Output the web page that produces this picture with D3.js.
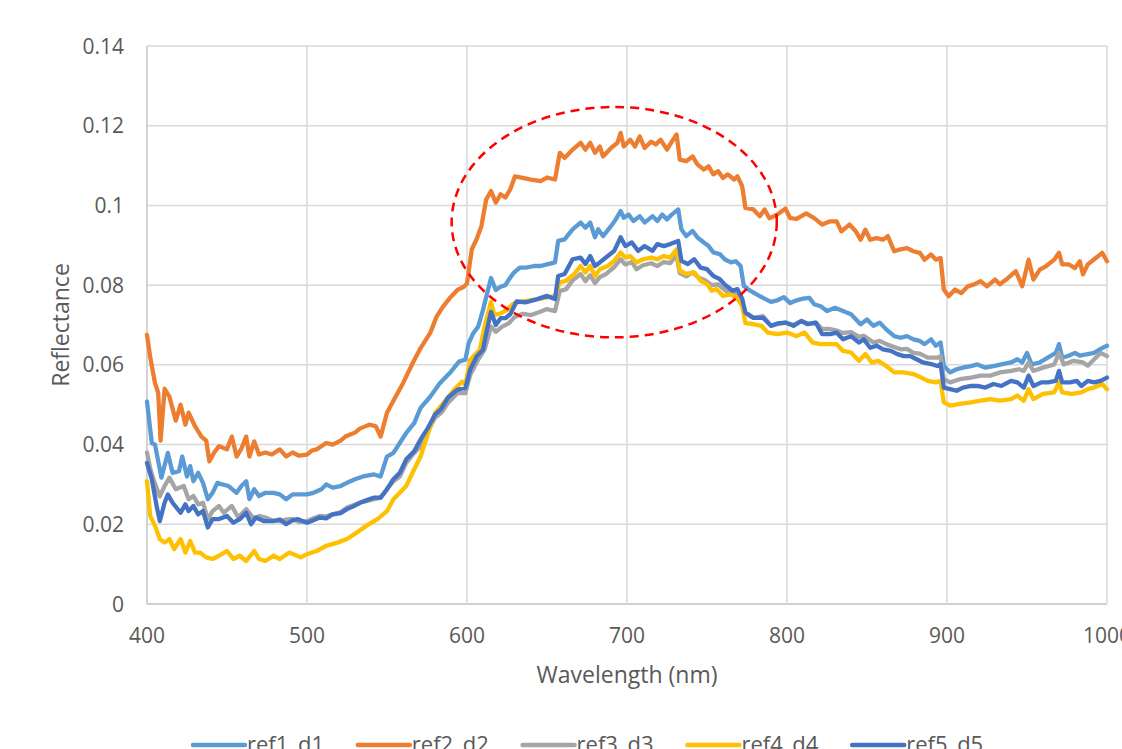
<!DOCTYPE html>
<html>
<head>
<meta charset="utf-8">
<script src="https://cdn.jsdelivr.net/npm/d3@7"></script>
<style>
  html, body { margin:0; padding:0; background:#fff; overflow:hidden; }
  svg { display:block; font-family:"Open Sans", sans-serif; }
</style>
</head>
<body>
<div id="chart"></div>
<script>
// legend / series
const seriesNames = ["ref1_d1", "ref2_d2", "ref3_d3", "ref4_d4", "ref5_d5"];
const seriesColors = ["#5B9BD5", "#ED7D31", "#A5A5A5", "#FFC000", "#4472C4"];

// axes
const xTicks = [400, 500, 600, 700, 800, 900, 1000];
const yTicks = [0, 0.02, 0.04, 0.06, 0.08, 0.1, 0.12, 0.14];
const yTickLabels = ["0", "0.02", "0.04", "0.06", "0.08", "0.1", "0.12", "0.14"];

// highlighted region (wavelength, reflectance)
const markCenter = [692, 0.0958];
const markRadius = [101.6, 0.0289];

// [wavelength nm, reflectance]
const ref1 = [[400,0.0508],[403,0.0404],[405,0.040],[409,0.0317],[413,0.0379],[416,0.0329],[420,0.0333],[422,0.037],[425,0.032],[427,0.0346],[429,0.0308],[432,0.0329],[435,0.0304],[438,0.0263],[441,0.0279],[444,0.0304],[447,0.030],[451,0.0296],[456,0.0279],[459,0.0296],[462,0.0308],[464,0.0263],[467,0.0288],[470,0.0271],[474,0.0279],[479,0.0279],[483,0.0275],[487,0.0263],[491,0.0275],[496,0.0275],[500,0.0275],[504,0.0279],[509,0.0288],[512,0.030],[516,0.0292],[521,0.0296],[525,0.0304],[530,0.0313],[535,0.032],[542,0.0325],[546,0.032],[550,0.037],[554,0.0379],[558,0.0404],[562,0.0429],[567,0.0454],[571,0.0492],[577,0.052],[583,0.0554],[590,0.0583],[595,0.0608],[599,0.0613],[601,0.0654],[604,0.068],[607,0.0696],[610,0.0738],[615,0.0818],[618,0.0788],[621,0.0796],[624,0.08],[626,0.0813],[629,0.083],[633,0.0844],[637,0.0844],[642,0.0848],[646,0.0848],[650,0.0852],[655,0.0857],[657,0.0911],[661,0.0915],[666,0.094],[671,0.0957],[674,0.0944],[677,0.0957],[680,0.092],[682,0.094],[685,0.0923],[690,0.0948],[693,0.0965],[696,0.0986],[698,0.0969],[701,0.0977],[704,0.0961],[708,0.0973],[711,0.0957],[716,0.0973],[719,0.0961],[722,0.0977],[725,0.0965],[728,0.0977],[732,0.099],[734,0.094],[737,0.0923],[741,0.0936],[744,0.092],[748,0.0907],[751,0.0898],[754,0.0882],[758,0.0878],[761,0.0865],[765,0.0857],[768,0.086],[771,0.0848],[773,0.0798],[777,0.0786],[781,0.0777],[785,0.0768],[790,0.0758],[794,0.0762],[798,0.077],[802,0.0755],[806,0.0762],[810,0.0766],[814,0.0768],[817,0.0752],[821,0.0747],[825,0.0735],[830,0.0743],[835,0.0735],[840,0.0727],[846,0.0702],[850,0.0714],[854,0.0698],[858,0.0706],[862,0.0689],[867,0.0672],[871,0.0668],[875,0.0672],[879,0.0664],[883,0.066],[886,0.0652],[890,0.0664],[893,0.0648],[896,0.0656],[898,0.0597],[902,0.0581],[906,0.0589],[910,0.0593],[915,0.0597],[919,0.0601],[924,0.0593],[929,0.0597],[934,0.0601],[940,0.0606],[944,0.0614],[947,0.0606],[950,0.063],[953,0.0601],[958,0.0606],[963,0.0618],[968,0.063],[970,0.0652],[972,0.0618],[976,0.0623],[980,0.063],[983,0.0623],[988,0.0627],[992,0.063],[996,0.064],[1000,0.0648]];

const ref2 = [[400,0.0675],[402,0.062],[405,0.0554],[407,0.053],[408.5,0.041],[411,0.054],[414,0.052],[418,0.046],[421,0.050],[424,0.045],[426,0.048],[430,0.0446],[434,0.042],[437,0.041],[439,0.0358],[442,0.038],[445,0.0396],[450,0.0388],[453,0.042],[456,0.037],[459,0.039],[462,0.042],[464,0.037],[467,0.0408],[470,0.0375],[474,0.038],[478,0.0375],[483,0.0388],[487,0.037],[491,0.038],[495,0.0372],[500,0.0375],[503,0.0385],[506,0.0388],[509,0.0396],[512,0.0404],[516,0.040],[521,0.041],[524,0.042],[527,0.0425],[530,0.043],[533,0.044],[536,0.0445],[539,0.045],[543,0.0446],[546,0.042],[550,0.048],[554,0.051],[560,0.0554],[566,0.0604],[571,0.0642],[577,0.068],[581,0.0721],[585,0.0746],[590,0.0771],[594,0.0788],[598,0.0796],[600,0.0804],[603,0.089],[606,0.0915],[609,0.0948],[612,0.1015],[615,0.1036],[618,0.1007],[621,0.1028],[624,0.102],[627,0.104],[630,0.1073],[634,0.107],[640,0.1065],[646,0.1061],[650,0.107],[655,0.1065],[658,0.1132],[661,0.1119],[666,0.114],[671,0.1157],[674,0.114],[677,0.1157],[680,0.1132],[683,0.1148],[685,0.1123],[690,0.1144],[694,0.1157],[696,0.1182],[698,0.1148],[702,0.1165],[705,0.1148],[708,0.1173],[711,0.1144],[715,0.116],[718,0.1153],[721,0.1165],[725,0.114],[728,0.116],[731,0.1178],[733,0.1115],[737,0.1111],[741,0.1123],[744,0.1103],[748,0.109],[751,0.1098],[754,0.1078],[757,0.1086],[760,0.1069],[763,0.1078],[767,0.1065],[769,0.1073],[772,0.1048],[774,0.0994],[779,0.099],[783,0.0973],[786,0.099],[789,0.0968],[794,0.0977],[799,0.0992],[802,0.0968],[806,0.0966],[812,0.098],[817,0.0968],[822,0.0952],[827,0.096],[831,0.096],[834,0.0935],[839,0.0952],[843,0.0935],[846,0.0914],[849,0.0939],[852,0.0914],[856,0.0918],[860,0.0914],[863,0.0923],[867,0.0885],[871,0.089],[875,0.0893],[879,0.0885],[883,0.0881],[886,0.0864],[890,0.0877],[893,0.0864],[896,0.0868],[898,0.0789],[901,0.0772],[905,0.0789],[909,0.078],[913,0.0797],[917,0.0802],[921,0.081],[925,0.0797],[930,0.0814],[933,0.0802],[937,0.0814],[943,0.0835],[947,0.0797],[951,0.0864],[954,0.0814],[958,0.0839],[962,0.0848],[967,0.0864],[970,0.0881],[972,0.0852],[976,0.0852],[980,0.0843],[983,0.086],[985,0.0827],[988,0.0852],[993,0.0868],[997,0.0881],[1000,0.086]];

const ref3 = [[400,0.038],[402,0.034],[404,0.0313],[408,0.027],[411,0.0296],[414,0.0317],[418,0.0288],[423,0.0296],[426,0.0263],[429,0.0271],[432,0.025],[435,0.0254],[438,0.0213],[441,0.0233],[445,0.0246],[448,0.0229],[453,0.0246],[457,0.0217],[462,0.0238],[467,0.0213],[470,0.0221],[474,0.0217],[478,0.021],[483,0.0208],[487,0.0212],[491,0.0213],[495,0.0206],[500,0.0208],[504,0.0215],[508,0.0221],[512,0.022],[516,0.0225],[521,0.023],[525,0.0242],[529,0.0248],[533,0.0254],[537,0.0258],[542,0.0263],[546,0.0267],[550,0.0288],[554,0.0308],[558,0.032],[562,0.0354],[567,0.0379],[571,0.0396],[575,0.0429],[580,0.0467],[584,0.048],[588,0.0504],[594,0.0529],[599,0.0529],[602,0.0575],[607,0.0613],[611,0.0638],[615,0.0696],[618,0.0683],[622,0.0696],[626,0.0704],[630,0.0721],[635,0.0728],[640,0.0725],[645,0.0732],[650,0.074],[655,0.0735],[658,0.0785],[662,0.079],[666,0.0812],[671,0.0828],[674,0.081],[677,0.0825],[680,0.0805],[683,0.082],[687,0.0828],[692,0.0845],[696,0.0865],[699,0.0852],[703,0.0858],[706,0.084],[710,0.085],[715,0.0855],[719,0.0848],[723,0.0858],[727,0.0855],[731,0.0875],[733,0.083],[737,0.0822],[741,0.0832],[745,0.0818],[749,0.0812],[753,0.08],[757,0.0802],[761,0.0788],[765,0.0778],[769,0.0782],[771,0.0764],[774,0.0731],[779,0.0718],[785,0.0722],[790,0.0698],[794,0.0702],[799,0.0706],[804,0.07],[809,0.071],[813,0.0703],[818,0.0706],[822,0.069],[827,0.069],[831,0.0686],[835,0.068],[840,0.0682],[845,0.067],[848,0.0673],[854,0.0656],[858,0.066],[862,0.0652],[867,0.0645],[871,0.0639],[875,0.064],[879,0.063],[883,0.0628],[888,0.0618],[894,0.0618],[896,0.0622],[898,0.0564],[902,0.0556],[908,0.0564],[915,0.0568],[921,0.0573],[927,0.0573],[933,0.0581],[940,0.0585],[945,0.0589],[948,0.0585],[951,0.0606],[954,0.0585],[960,0.0593],[967,0.0601],[970,0.063],[973,0.0601],[979,0.061],[985,0.0606],[988,0.0598],[992,0.0614],[996,0.063],[1000,0.0622]];

const ref4 = [[400,0.0308],[402,0.0221],[405,0.0196],[408,0.0163],[411,0.0154],[414,0.0163],[417,0.0138],[421,0.0163],[424,0.0129],[427,0.0158],[430,0.0129],[433,0.0129],[437,0.0117],[441,0.0113],[445,0.0121],[450,0.0133],[454,0.0113],[458,0.0121],[462,0.0108],[467,0.0133],[470,0.0113],[474,0.0108],[479,0.0121],[483,0.0113],[489,0.0129],[496,0.0117],[500,0.0125],[506,0.0133],[512,0.0146],[519,0.0154],[525,0.0163],[531,0.0179],[537,0.0196],[544,0.0213],[550,0.0233],[554,0.0263],[558,0.0279],[562,0.0296],[567,0.0338],[571,0.037],[575,0.042],[580,0.0479],[586,0.0508],[592,0.0538],[597,0.0558],[599,0.055],[602,0.0613],[605,0.0625],[608,0.0638],[611,0.0696],[615,0.0758],[617,0.0725],[621,0.0729],[625,0.0738],[629,0.0754],[633,0.0758],[638,0.0761],[644,0.0765],[650,0.0769],[655,0.0773],[658,0.0807],[662,0.0811],[667,0.0828],[671,0.0848],[674,0.0832],[677,0.0848],[680,0.0823],[683,0.084],[688,0.0848],[692,0.0861],[696,0.0882],[699,0.0869],[702,0.0873],[706,0.0857],[710,0.0865],[715,0.0869],[719,0.0865],[723,0.0873],[727,0.0869],[731,0.089],[733,0.0836],[737,0.0828],[742,0.0832],[746,0.0811],[750,0.0803],[753,0.0786],[756,0.079],[760,0.0773],[765,0.0777],[769,0.0765],[772,0.0748],[774,0.0705],[779,0.0702],[784,0.0698],[788,0.0681],[794,0.0677],[800,0.0681],[806,0.0672],[811,0.0681],[816,0.0656],[821,0.0652],[827,0.0652],[831,0.0652],[835,0.0635],[840,0.0631],[845,0.061],[849,0.0627],[853,0.0606],[857,0.061],[862,0.0597],[867,0.0581],[873,0.0581],[879,0.0577],[884,0.0568],[888,0.056],[893,0.0556],[896,0.056],[898,0.0506],[902,0.0498],[908,0.0502],[915,0.0506],[921,0.051],[927,0.0514],[933,0.051],[940,0.0514],[944,0.0523],[948,0.051],[951,0.0539],[954,0.0514],[960,0.0527],[967,0.0531],[970,0.0556],[972,0.0531],[978,0.0527],[984,0.0531],[988,0.0539],[992,0.0543],[997,0.0552],[1000,0.0539]];

const ref5 = [[400,0.0354],[403,0.0313],[406,0.0246],[408,0.0208],[411,0.0254],[413,0.0275],[416,0.0254],[421,0.0229],[424,0.025],[426,0.0233],[429,0.0246],[432,0.0225],[435,0.0233],[438,0.0192],[441,0.0213],[445,0.0213],[450,0.0221],[454,0.0204],[458,0.0213],[462,0.0229],[465,0.02],[468,0.0217],[473,0.0208],[479,0.0208],[483,0.0212],[487,0.02],[491,0.021],[494,0.0213],[500,0.0204],[504,0.021],[508,0.0217],[512,0.0215],[516,0.0225],[521,0.0228],[525,0.0238],[529,0.0245],[533,0.0254],[537,0.026],[542,0.0267],[546,0.0267],[550,0.0288],[554,0.0313],[558,0.0329],[562,0.0363],[567,0.0383],[571,0.0413],[575,0.0438],[580,0.0475],[584,0.049],[588,0.0517],[594,0.0538],[599,0.0542],[602,0.0588],[606,0.0621],[610,0.0638],[612,0.0679],[615,0.0733],[618,0.07],[621,0.0717],[624,0.0717],[627,0.0727],[631,0.0759],[637,0.0757],[644,0.0765],[650,0.0773],[655,0.0765],[657,0.0823],[661,0.0828],[666,0.0865],[671,0.0869],[674,0.0853],[677,0.0873],[680,0.0848],[683,0.0857],[688,0.0873],[692,0.0886],[696,0.092],[699,0.0898],[703,0.0907],[707,0.0886],[711,0.0898],[716,0.0886],[719,0.0903],[723,0.0898],[727,0.0903],[732,0.0911],[734,0.0861],[738,0.0853],[742,0.0865],[746,0.0844],[750,0.084],[754,0.0823],[758,0.0815],[761,0.0802],[766,0.0786],[769,0.079],[772,0.0766],[774,0.0731],[779,0.0718],[785,0.0718],[790,0.0698],[794,0.0704],[799,0.0706],[804,0.0698],[809,0.071],[813,0.0702],[818,0.0706],[822,0.0677],[827,0.0677],[831,0.0681],[835,0.0664],[840,0.0672],[845,0.0656],[848,0.0664],[852,0.0643],[856,0.0648],[860,0.0639],[865,0.0635],[869,0.0627],[873,0.0622],[877,0.0622],[881,0.0614],[885,0.0606],[890,0.0602],[894,0.0597],[896,0.0602],[898,0.0543],[902,0.0539],[906,0.0535],[910,0.0543],[915,0.0547],[919,0.0547],[924,0.0543],[929,0.0552],[934,0.0547],[940,0.056],[944,0.0556],[948,0.0543],[951,0.0573],[954,0.0547],[959,0.0556],[963,0.0556],[968,0.056],[970,0.0585],[972,0.0556],[977,0.0556],[981,0.056],[984,0.0547],[988,0.056],[992,0.0556],[996,0.056],[1000,0.0568]];

const seriesData = [ref1, ref2, ref3, ref4, ref5];

const W = 1122, H = 749;
const margin = {top: 46, right: 15, bottom: 145, left: 147};
const innerW = W - margin.left - margin.right;
const innerH = H - margin.top - margin.bottom;

const svg = d3.select("#chart").append("svg")
    .attr("width", W)
    .attr("height", H);

const g = svg.append("g").attr("transform", `translate(${margin.left},${margin.top})`);

const x = d3.scaleLinear().domain([400, 1000]).range([0, innerW]);
const y = d3.scaleLinear().domain([0, 0.14]).range([innerH, 0]);

// gridlines
g.selectAll("line.hgrid").data(yTicks).join("line")
    .attr("class", "hgrid")
    .attr("x1", 0).attr("x2", innerW)
    .attr("y1", d => y(d)).attr("y2", d => y(d))
    .attr("stroke", d => d === 0 ? "#bfbfbf" : "#d9d9d9")
    .attr("stroke-width", 1.5);

g.selectAll("line.vgrid").data(xTicks).join("line")
    .attr("class", "vgrid")
    .attr("x1", d => x(d)).attr("x2", d => x(d))
    .attr("y1", 0).attr("y2", innerH)
    .attr("stroke", d => d === 400 ? "#c6c6c6" : "#d9d9d9")
    .attr("stroke-width", 1.5);

// tick labels
g.selectAll("text.ylab").data(yTicks).join("text")
    .attr("class", "ylab")
    .attr("x", -23)
    .attr("y", d => y(d))
    .attr("dy", "0.36em")
    .attr("text-anchor", "end")
    .attr("fill", "#595959")
    .attr("font-size", 21)
    .text((d, i) => yTickLabels[i]);

g.selectAll("text.xlab").data(xTicks).join("text")
    .attr("class", "xlab")
    .attr("x", d => x(d))
    .attr("y", innerH + 39)
    .attr("text-anchor", "middle")
    .attr("fill", "#595959")
    .attr("font-size", 21)
    .text(d => d);

// axis titles
g.append("text")
    .attr("x", innerW / 2)
    .attr("y", innerH + 79)
    .attr("text-anchor", "middle")
    .attr("fill", "#595959")
    .attr("font-size", 23)
    .text("Wavelength (nm)");

g.append("text")
    .attr("transform", `translate(${-78},${innerH / 2}) rotate(-90)`)
    .attr("text-anchor", "middle")
    .attr("fill", "#595959")
    .attr("font-size", 23)
    .text("Reflectance");

// series
const line = d3.line()
    .x(d => x(d[0]))
    .y(d => y(d[1]));

g.selectAll("path.series").data(seriesData).join("path")
    .attr("class", "series")
    .attr("d", line)
    .attr("fill", "none")
    .attr("stroke", (d, i) => seriesColors[i])
    .attr("stroke-width", 4.3)
    .attr("stroke-linejoin", "round")
    .attr("stroke-linecap", "round");

// dashed ellipse
g.append("ellipse")
    .attr("cx", x(markCenter[0]))
    .attr("cy", y(markCenter[1]))
    .attr("rx", x(markCenter[0] + markRadius[0]) - x(markCenter[0]))
    .attr("ry", y(markCenter[1] - markRadius[1]) - y(markCenter[1]))
    .attr("fill", "none")
    .attr("stroke", "#FF0000")
    .attr("stroke-width", 2.5)
    .attr("stroke-dasharray", "9,6");

// legend
const legend = svg.append("g").attr("transform", "translate(193,745)");
const item = legend.selectAll("g").data(seriesNames).join("g")
    .attr("transform", (d, i) => `translate(${i * 164.8},0)`);
item.append("line")
    .attr("x1", 0).attr("x2", 52)
    .attr("y1", 0).attr("y2", 0)
    .attr("stroke", (d, i) => seriesColors[i])
    .attr("stroke-width", 4.5)
    .attr("stroke-linecap", "round");
item.append("text")
    .attr("x", 54)
    .attr("y", 7)
    .attr("fill", "#595959")
    .attr("font-size", 22)
    .text(d => d);
</script>
</body>
</html>
